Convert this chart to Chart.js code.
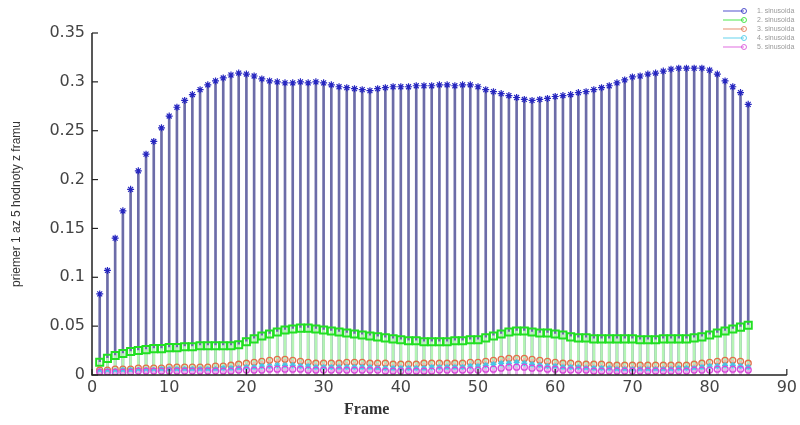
<!DOCTYPE html>
<html>
<head>
<meta charset="utf-8">
<script src="https://cdn.jsdelivr.net/npm/chart.js@4.4.1/dist/chart.umd.min.js"></script>
<style>
  html, body { margin: 0; padding: 0; background: #fff; }
  #wrap { position: relative; width: 800px; height: 425px; }
  #xtitle { position: absolute; left: 344px; top: 400px; font: bold 16px "Liberation Serif", serif; color: #333; }
</style>
</head>
<body>
<div id="wrap">
  <canvas id="myChart" width="800" height="425"></canvas>
  <div id="xtitle">Frame</div>
</div>
<script>
// frame numbers (x categories)
const frames = [
  1, 2, 3, 4, 5, 6, 7, 8, 9, 10, 11, 12, 13, 14, 15, 16, 17, 18, 19, 20,
  21, 22, 23, 24, 25, 26, 27, 28, 29, 30, 31, 32, 33, 34, 35, 36, 37, 38, 39, 40,
  41, 42, 43, 44, 45, 46, 47, 48, 49, 50, 51, 52, 53, 54, 55, 56, 57, 58, 59, 60,
  61, 62, 63, 64, 65, 66, 67, 68, 69, 70, 71, 72, 73, 74, 75, 76, 77, 78, 79, 80,
  81, 82, 83, 84, 85
];

const seriesNames = ["1. sinusoida", "2. sinusoida", "3. sinusoida", "4. sinusoida", "5. sinusoida"];

const s1 = [
  0.083, 0.107, 0.140, 0.168, 0.190, 0.209, 0.226, 0.239, 0.253, 0.265,
  0.274, 0.281, 0.287, 0.292, 0.297, 0.301, 0.304, 0.307, 0.309, 0.308,
  0.306, 0.303, 0.301, 0.300, 0.299, 0.299, 0.300, 0.299, 0.300, 0.299,
  0.297, 0.295, 0.294, 0.293, 0.292, 0.291, 0.293, 0.294, 0.295, 0.295,
  0.295, 0.296, 0.296, 0.296, 0.297, 0.297, 0.296, 0.297, 0.297, 0.295,
  0.292, 0.290, 0.288, 0.286, 0.284, 0.282, 0.281, 0.282, 0.283, 0.285,
  0.286, 0.287, 0.289, 0.290, 0.292, 0.294, 0.296, 0.299, 0.302, 0.305,
  0.306, 0.308, 0.309, 0.311, 0.313, 0.314, 0.314, 0.314, 0.314, 0.312,
  0.308, 0.301, 0.295, 0.289, 0.277
];

const s2 = [
  0.013, 0.017, 0.020, 0.022, 0.024, 0.025, 0.026, 0.027, 0.027, 0.028,
  0.028, 0.029, 0.029, 0.030, 0.030, 0.030, 0.030, 0.030, 0.031, 0.034,
  0.037, 0.040, 0.042, 0.044, 0.046, 0.047, 0.048, 0.048, 0.047, 0.046,
  0.045, 0.044, 0.043, 0.042, 0.041, 0.040, 0.039, 0.038, 0.037, 0.036,
  0.035, 0.035, 0.034, 0.034, 0.034, 0.034, 0.035, 0.035, 0.036, 0.036,
  0.038, 0.040, 0.042, 0.044, 0.045, 0.045, 0.044, 0.043, 0.043, 0.042,
  0.041, 0.039, 0.038, 0.038, 0.037, 0.037, 0.037, 0.037, 0.037, 0.037,
  0.036, 0.036, 0.036, 0.037, 0.037, 0.037, 0.037, 0.038, 0.039, 0.041,
  0.043, 0.045, 0.047, 0.049, 0.051
];

const s3 = [
  0.005, 0.005, 0.006, 0.006, 0.006, 0.007, 0.007, 0.007, 0.007, 0.008,
  0.008, 0.008, 0.008, 0.008, 0.008, 0.009, 0.009, 0.010, 0.011, 0.012,
  0.013, 0.014, 0.015, 0.016, 0.016, 0.015, 0.014, 0.013, 0.012, 0.012,
  0.012, 0.012, 0.013, 0.013, 0.013, 0.012, 0.012, 0.012, 0.011, 0.011,
  0.011, 0.011, 0.012, 0.012, 0.012, 0.012, 0.012, 0.012, 0.013, 0.013,
  0.014, 0.015, 0.016, 0.017, 0.017, 0.017, 0.016, 0.015, 0.014, 0.013,
  0.012, 0.012, 0.011, 0.011, 0.011, 0.011, 0.010, 0.010, 0.010, 0.010,
  0.010, 0.010, 0.010, 0.010, 0.010, 0.010, 0.010, 0.011, 0.012, 0.013,
  0.014, 0.015, 0.015, 0.014, 0.012
];

const s4 = [
  0.004, 0.004, 0.004, 0.005, 0.005, 0.005, 0.005, 0.005, 0.006, 0.006,
  0.006, 0.006, 0.006, 0.006, 0.006, 0.006, 0.007, 0.007, 0.007, 0.008,
  0.008, 0.009, 0.009, 0.010, 0.010, 0.010, 0.009, 0.009, 0.008, 0.008,
  0.008, 0.008, 0.008, 0.008, 0.008, 0.008, 0.007, 0.007, 0.007, 0.007,
  0.007, 0.007, 0.007, 0.008, 0.008, 0.008, 0.008, 0.008, 0.009, 0.009,
  0.010, 0.011, 0.012, 0.012, 0.013, 0.012, 0.011, 0.010, 0.009, 0.009,
  0.008, 0.008, 0.008, 0.007, 0.007, 0.007, 0.007, 0.006, 0.006, 0.006,
  0.006, 0.006, 0.006, 0.006, 0.006, 0.007, 0.007, 0.007, 0.008, 0.009,
  0.009, 0.010, 0.010, 0.009, 0.008
];

const s5 = [
  0.003, 0.003, 0.003, 0.003, 0.003, 0.004, 0.004, 0.004, 0.004, 0.004,
  0.004, 0.004, 0.004, 0.004, 0.004, 0.004, 0.004, 0.004, 0.005, 0.005,
  0.005, 0.005, 0.006, 0.006, 0.006, 0.006, 0.006, 0.005, 0.005, 0.005,
  0.005, 0.005, 0.005, 0.005, 0.005, 0.005, 0.005, 0.004, 0.004, 0.004,
  0.004, 0.004, 0.004, 0.004, 0.005, 0.005, 0.005, 0.005, 0.005, 0.005,
  0.006, 0.006, 0.007, 0.008, 0.008, 0.008, 0.007, 0.007, 0.006, 0.006,
  0.005, 0.005, 0.005, 0.005, 0.004, 0.004, 0.004, 0.004, 0.004, 0.004,
  0.004, 0.004, 0.004, 0.004, 0.004, 0.004, 0.004, 0.005, 0.005, 0.005,
  0.006, 0.006, 0.006, 0.006, 0.005
];

const xTicks = [0, 10, 20, 30, 40, 50, 60, 70, 80, 90];
const yTicks = [0, 0.05, 0.1, 0.15, 0.2, 0.25, 0.3, 0.35];

const allSeries = [s1, s2, s3, s4, s5];
const stemColors = ["#6c6ca8", "#b4f4b4", "#f2b8a4", "#a8e4f0", "#eeaaee"];
const markColors = ["#2626c0", "#22e022", "#e0704a", "#40c8e8", "#d848d8"];
const markStyles = ["star", "rect", "circle", "star", "circle"];
const markSizes = [3.5, 5, 3, 3, 3];
const markWidths = [1.2, 2, 1.3, 1.3, 1.3];

const ctx = document.getElementById("myChart");

const toPts = (vals) => frames.map((f, i) => ({ x: f, y: vals[i] }));

let datasets = [];
allSeries.forEach((vals, i) => {
  datasets.push({
    type: "bar",
    label: seriesNames[i] + " stem",
    data: toPts(vals),
    backgroundColor: stemColors[i],
    barThickness: 2,
    grouped: false,
    order: 20 - i * 2,
  });
  datasets.push({
    type: "line",
    label: seriesNames[i],
    data: toPts(vals),
    showLine: false,
    pointStyle: markStyles[i],
    pointRadius: markSizes[i],
    pointBorderColor: markColors[i],
    pointBackgroundColor: "rgba(0,0,0,0)",
    pointBorderWidth: markWidths[i],
    order: 19 - i * 2,
  });
});

// inward MATLAB-like ticks and axis lines
const axesPlugin = {
  id: "matlabAxes",
  afterDraw(chart) {
    const c = chart.ctx;
    const x = chart.scales.x, y = chart.scales.y;
    const a = chart.chartArea;
    c.save();
    c.strokeStyle = "#222";
    c.lineWidth = 1.5;
    c.beginPath();
    c.moveTo(a.left, a.top);
    c.lineTo(a.left, a.bottom);
    c.lineTo(a.right, a.bottom);
    c.stroke();
    c.lineWidth = 1.2;
    yTicks.forEach((v) => {
      const py = y.getPixelForValue(v);
      c.beginPath();
      c.moveTo(a.left, py);
      c.lineTo(a.left + 6, py);
      c.stroke();
    });
    xTicks.forEach((v) => {
      const px = x.getPixelForValue(v);
      c.beginPath();
      c.moveTo(px, a.bottom);
      c.lineTo(px, a.bottom - 6);
      c.stroke();
    });
    c.restore();
  },
};

const legendPlugin = {
  id: "stemLegend",
  afterDraw(chart) {
    const c = chart.ctx;
    c.save();
    seriesNames.forEach((name, i) => {
      const ly = 11 + i * 9;
      c.strokeStyle = markColors[i];
      c.globalAlpha = 0.8;
      c.lineWidth = 1;
      c.beginPath();
      c.moveTo(723, ly);
      c.lineTo(744, ly);
      c.stroke();
      c.beginPath();
      c.arc(744, ly, 2.5, 0, Math.PI * 2);
      c.stroke();
      c.globalAlpha = 1;
      c.fillStyle = "#999";
      c.font = "7px 'Liberation Sans', sans-serif";
      c.textBaseline = "middle";
      c.fillText(name, 757, ly);
    });
    c.restore();
  },
};

new Chart(ctx, {
  type: "bar",
  data: { datasets: datasets },
  plugins: [axesPlugin, legendPlugin],
  options: {
    responsive: false,
    animation: false,
    devicePixelRatio: 1,
    layout: { padding: { left: 0, right: 11, top: 33, bottom: 0 } },
    plugins: { legend: { display: false }, tooltip: { enabled: false } },
    scales: {
      x: {
        type: "linear",
        min: 0,
        max: 90,
        offset: false,
        grid: { display: false, drawTicks: false },
        border: { display: false },
        afterBuildTicks: (s) => { s.ticks = xTicks.map((v) => ({ value: v })); },
        afterFit: (s) => { s.height = 50; },
        ticks: {
          padding: 3,
          color: "#444",
          font: { family: "'DejaVu Sans', sans-serif", size: 16 },
          maxRotation: 0,
        },
      },
      y: {
        min: 0,
        max: 0.35,
        grid: { display: false, drawTicks: false },
        border: { display: false },
        afterBuildTicks: (s) => { s.ticks = yTicks.map((v) => ({ value: v })); },
        afterFit: (s) => { s.width = 92; },
        ticks: {
          padding: 7,
          color: "#444",
          font: { family: "'DejaVu Sans', sans-serif", size: 16 },
          callback: (v) => String(+v.toFixed(2)),
        },
        title: {
          display: true,
          text: "priemer 1 az 5 hodnoty z framu",
          color: "#333",
          padding: { top: 9, bottom: 0 },
          font: { family: "'Liberation Sans', Arial, sans-serif", size: 12 },
        },
      },
    },
  },
});
</script>
</body>
</html>
